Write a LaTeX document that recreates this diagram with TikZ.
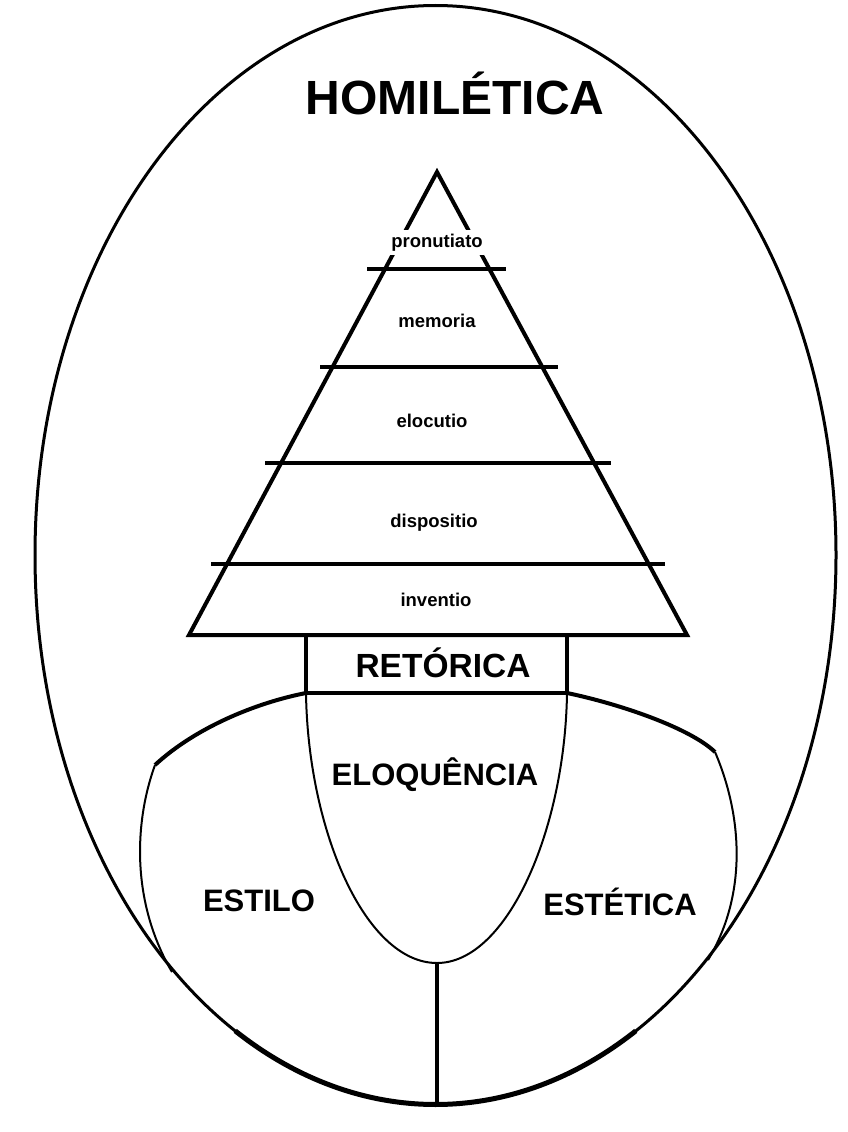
\documentclass[tikz,border=0pt]{standalone}
\usepackage{fontspec}
\setmainfont{Liberation Sans}
\begin{document}
\begin{tikzpicture}[x=1pt,y=-1pt,
  thickline/.style={line width=4pt},
  thinline/.style={line width=2pt},
  outerline/.style={line width=3pt},
  big/.style={inner sep=0pt,anchor=base,font=\bfseries\fontsize{48}{48}\selectfont},
  mid/.style={inner sep=0pt,anchor=base,font=\bfseries\fontsize{31}{31}\selectfont},
  small/.style={inner sep=0pt,anchor=base,font=\bfseries\fontsize{18.5}{18.5}\selectfont}]
\useasboundingbox (0,0) rectangle (847,1132);
% outer ellipse
\draw[outerline] (435.5,555) ellipse [x radius=400.5, y radius=549.5];
\draw[line width=5pt] (435.5,555) ++(60:400.5 and 549.5) arc[start angle=60, end angle=120, x radius=400.5, y radius=549.5];
% pyramid
\coordinate (apex) at (437,172);
\coordinate (bl) at (189,635);
\coordinate (br) at (687,635);
\draw[thickline,line join=miter] (bl) -- (apex) -- (br) -- cycle;
\draw[thickline] (367,269) -- (506,269);
\draw[thickline] (320,367) -- (558,367);
\draw[thickline] (265,463) -- (611,463);
\draw[thickline] (211,564) -- (665,564);
% retorica box
\coordinate (rtl) at (306,635);
\coordinate (rtr) at (567,635);
\coordinate (rbl) at (306,693);
\coordinate (rbr) at (567,693);
\draw[thickline] (rtl) -- (rbl) -- (rbr) -- (rtr);
% lower curves
\coordinate (lk) at (155,765);
\coordinate (rk) at (715,752);
\coordinate (bot) at (437,963);
\coordinate (ebot) at (437,1105);
\draw[thickline] (rbl) .. controls (255,703) and (195,728) .. (lk);
\draw[thickline] (rbr) .. controls (620,704) and (690,728) .. (rk);
\draw[thinline] (lk) .. controls (135,820) and (130,900) .. (172,972);
\draw[thinline] (rk) .. controls (740,810) and (750,890) .. (708,960);
\draw[thinline] (rbl) .. controls (308,830) and (365,963) .. (bot)
  .. controls (507,963) and (565,830) .. (rbr);
\draw[thickline] (bot) -- (ebot);
% labels
\node[big] (homi) at (455,114) {HOMILÉTICA};
\node[small,fill=white,inner xsep=1pt,inner ysep=4pt] (pron) at (437,247) {pronutiato};
\node[small] (memo) at (437,327) {memoria};
\node[small] (eloc) at (432,427) {elocutio};
\node[small] (disp) at (434,527) {dispositio};
\node[small] (inve) at (436,606) {inventio};
\node[mid,font=\bfseries\fontsize{33.5}{33.5}\selectfont] (reto) at (443,677) {RETÓRICA};
\node[mid] (eloq) at (435,785) {ELOQUÊNCIA};
\node[mid] (esti) at (259,911) {ESTILO};
\node[mid] (este) at (620,915) {ESTÉTICA};
\end{tikzpicture}
\end{document}
